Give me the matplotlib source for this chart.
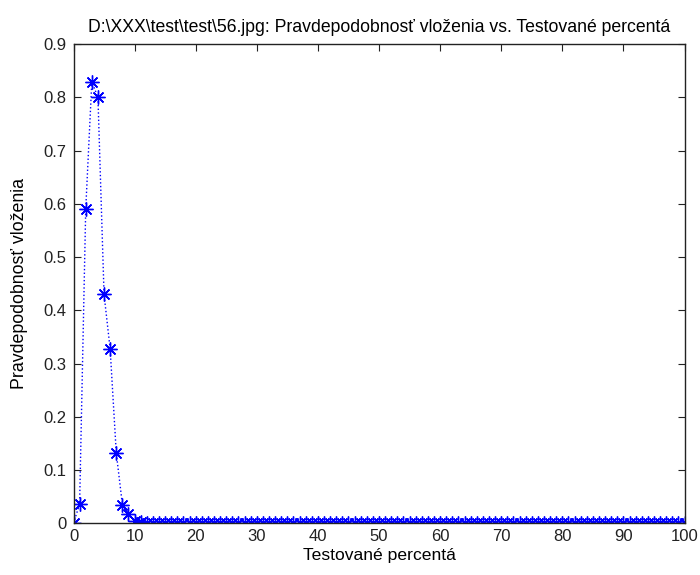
import matplotlib
matplotlib.use('Agg')
import matplotlib.pyplot as plt
import numpy as np

plt.rcParams['font.family'] = ['Liberation Sans', 'DejaVu Sans']

# tested percentages 0..100
x = list(range(0, 101))
head = [0.0, 0.036, 0.59, 0.83, 0.80, 0.43, 0.327, 0.132, 0.035, 0.018, 0.004, 0.002]
y = head + [0.0] * (len(x) - len(head))

xticks = [0, 10, 20, 30, 40, 50, 60, 70, 80, 90, 100]
yticks = [0, 0.1, 0.2, 0.3, 0.4, 0.5, 0.6, 0.7, 0.8, 0.9]

fig = plt.figure(figsize=(7, 5.75), dpi=100)
ax = fig.add_axes([0.105, 0.09, 0.873, 0.833])
ax.plot(x, y, linestyle=':', color='blue', linewidth=1, marker=(8, 2, 0),
        markersize=10, markeredgewidth=1.0)

ax.set_xlim(0, 100)
ax.set_ylim(0, 0.9)
ax.set_xticks(xticks)
ax.set_yticks(yticks)
ax.set_xticklabels([str(v) for v in xticks])
ax.set_yticklabels(['0'] + ['%g' % v for v in yticks[1:]])
ax.tick_params(direction='in', top=True, right=True, labelsize=12, length=5,
               colors='#222222')
ax.tick_params(axis='x', pad=4)
ax.tick_params(axis='y', pad=5)
for s in ax.spines.values():
    s.set_linewidth(1.0)
    s.set_color('#222222')

ax.set_xlabel('Testované percentá', fontsize=12.6, labelpad=3)
ax.set_ylabel('Pravdepodobnosť vloženia', fontsize=12.8, labelpad=11)
ax.set_title('D:\\XXX\\test\\test\\56.jpg: Pravdepodobnosť vloženia vs. Testované percentá',
             fontsize=12.7, pad=9)

fig.savefig('out.png', dpi=100)
